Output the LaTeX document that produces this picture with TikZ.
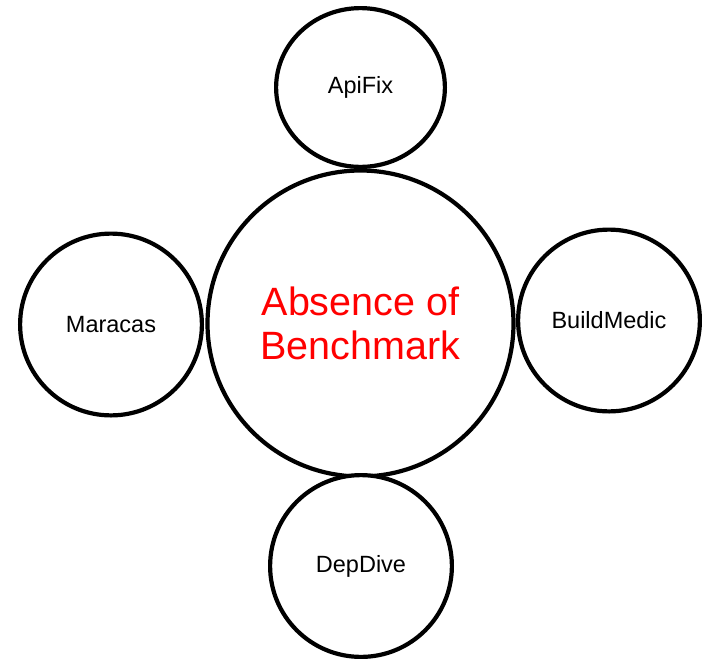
\documentclass[tikz,border=0pt]{standalone}
\usepackage{fontspec}
\setmainfont{Liberation Sans}
\usetikzlibrary{shapes.geometric}
\begin{document}
\begin{tikzpicture}[x=1pt,y=-1pt,
  ring/.style={draw=black, line width=4.2pt, circle, inner sep=0pt, fill=white},
  small/.style={ring, minimum size=181.8pt, font=\fontsize{23.5}{27}\selectfont},
  big/.style={ring, minimum size=306pt, text=red, align=center, font=\fontsize{39.5}{43.5}\selectfont}]
\useasboundingbox (0,0) rectangle (702,659);
\node[big] (center) at (360.5,323.5) {Absence of\\Benchmark};
\node[draw=black, line width=4.2pt, ellipse, inner sep=0pt, minimum width=168.8pt, minimum height=158.8pt, font=\fontsize{23.5}{27}\selectfont] (apifix) at (360.5,87.5) {ApiFix};
\node[small] (maracas) at (111,324.5) {Maracas};
\node[small] (buildmedic) at (609,320.5) {BuildMedic};
\node[small] (depdive) at (361,566) {DepDive};
\end{tikzpicture}
\end{document}
